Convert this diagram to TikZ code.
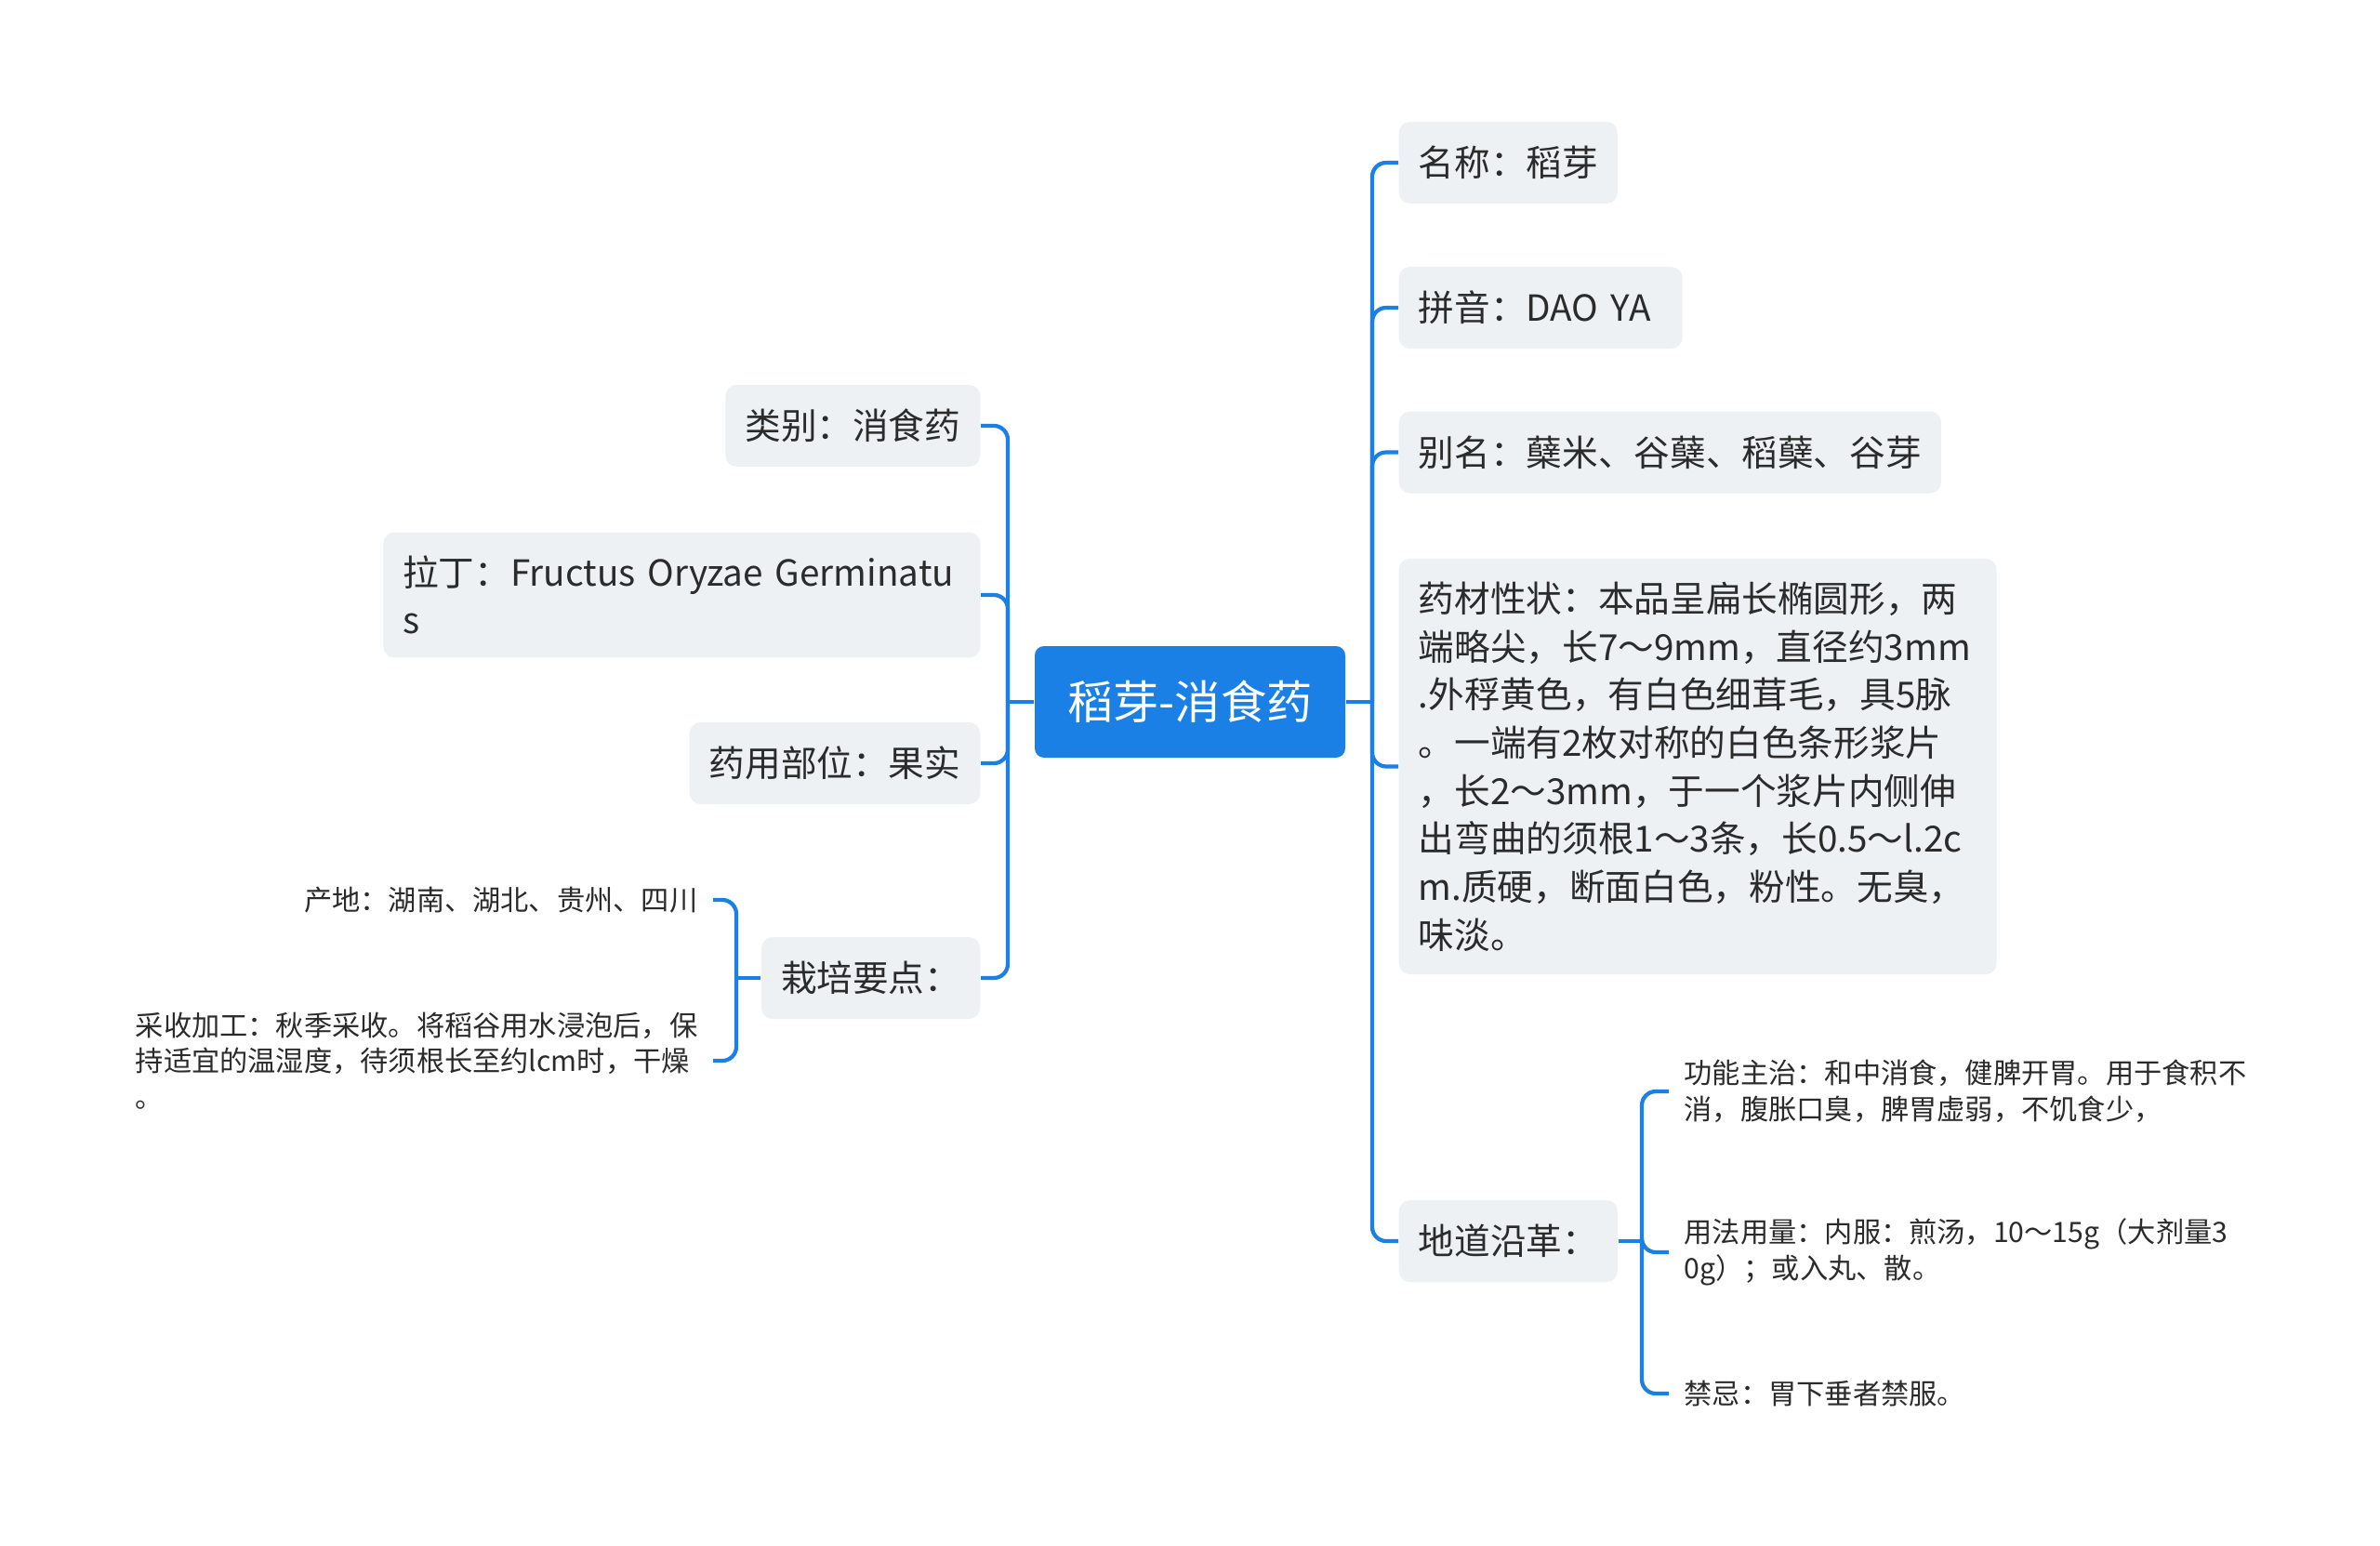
\documentclass[tikz,border=0pt]{standalone}
\usepackage{fontspec}
\setmainfont{Noto Sans CJK SC}
\usepackage{xcolor}

\definecolor{mapblue}{HTML}{1A80E6}
\definecolor{topicgray}{HTML}{EEF1F4}
\definecolor{inkgray}{HTML}{2B2B2B}

\begin{document}
\begin{tikzpicture}[
	root/.style={rectangle, rounded corners=0.1cm, fill=mapblue, text=white,
		font=\fontsize{14}{17}\selectfont, minimum width=3.34cm, minimum height=1.2cm},
	topic/.style={rectangle, rounded corners=0.12cm, fill=topicgray, text=inkgray,
		font=\fontsize{11}{14.7}\selectfont, align=left, inner xsep=0.21cm,
		inner ysep=0.25cm, minimum height=0.88cm},
	leaf/.style={text=inkgray, font=\fontsize{8.6}{11}\selectfont, align=left,
		inner xsep=0.16cm, inner ysep=0.1cm},
	branch/.style={draw=mapblue, line width=1.2pt, rounded corners=0.15cm}
	]

	\fill[white] (0,0) rectangle (25.6,-16.63);
	\useasboundingbox (0,0) rectangle (25.6,-16.63);

	\node [root] (root) at (12.80,-7.55) {稻芽-消食药};

	% right side
	\node [topic, anchor=west] (name)   at (15.04,-1.75)  {名称：稻芽};
	\node [topic, anchor=west, text width=2.63cm] (pinyin) at (15.04,-3.31) {拼音：DAO YA};
	\node [topic, anchor=west] (alias)  at (15.04,-4.865) {别名：蘖米、谷蘖、稻蘖、谷芽};
	\node [topic, anchor=west, text width=6.01cm] (trait) at (15.04,-8.245) {药材性状：本品呈扁长椭圆形，两\\端略尖，长7～9mm，直径约3mm\\.外稃黄色，有白色细茸毛，具5脉\\。一端有2枚对称的白色条形浆片\\，长2～3mm，于一个浆片内侧伸\\出弯曲的须根1～3条，长0.5～l.2c\\m.质硬，断面白色，粉性。无臭，\\味淡。};
	\node [topic, anchor=west] (origin) at (15.04,-13.35) {地道沿革：};

	\node [leaf, anchor=west] (effect) at (17.95,-11.74) {功能主治：和中消食，健脾开胃。用于食积不\\消，腹胀口臭，脾胃虚弱，不饥食少，};
	\node [leaf, anchor=west] (dosage) at (17.95,-13.47) {用法用量：内服：煎汤，10～15g（大剂量3\\0g）；或入丸、散。};
	\node [leaf, anchor=west] (taboo)  at (17.95,-14.99) {禁忌：胃下垂者禁服。};

	% left side
	\node [topic, anchor=east] (category) at (10.55,-4.58)  {类别：消食药};
	\node [topic, anchor=east, text width=6.0cm] (latin) at (10.55,-6.40) {拉丁：Fructus Oryzae Germinatu\\s};
	\node [topic, anchor=east] (part)     at (10.55,-8.21)  {药用部位：果实};
	\node [topic, anchor=east] (grow)     at (10.55,-10.52) {栽培要点：};

	\node [leaf, anchor=east] (place)   at (7.67,-9.68)  {产地：湖南、湖北、贵州、四川};
	\node [leaf, anchor=east] (harvest) at (7.67,-11.41) {采收加工：秋季采收。将稻谷用水浸泡后，保\\持适宜的温湿度，待须根长至约lcm时，干燥\\。};

	\coordinate (rtrunk) at (14.76,-7.55);
	\coordinate (ltrunk) at (10.84,-7.55);
	\coordinate (otrunk) at (17.66,-13.35);
	\coordinate (gtrunk) at (7.92,-10.52);

	\draw [branch] (root.east) -- (rtrunk);
	\draw [branch] (root.west) -- (ltrunk);
	\draw [branch] (origin.east) -- (otrunk);
	\draw [branch] (grow.west) -- (gtrunk);

	\foreach \n in {name, pinyin, alias, trait, origin}
		\draw [branch] (rtrunk) |- (\n.west);
	\foreach \n in {category, latin, part, grow}
		\draw [branch] (ltrunk) |- (\n.east);
	\foreach \n in {effect, dosage, taboo}
		\draw [branch] (otrunk) |- (\n.west);
	\foreach \n in {place, harvest}
		\draw [branch] (gtrunk) |- (\n.east);

\end{tikzpicture}
\end{document}
